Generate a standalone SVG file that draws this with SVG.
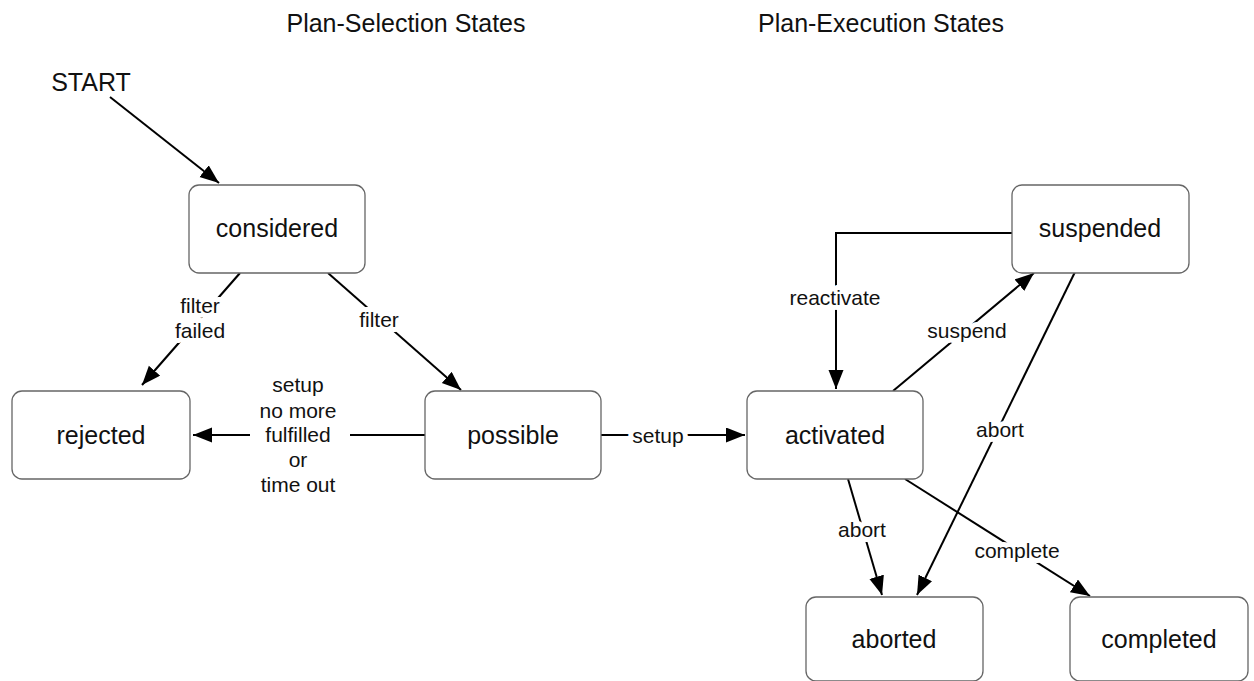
<svg xmlns="http://www.w3.org/2000/svg" width="1254" height="681" viewBox="0 0 1254 681">
<defs>
<marker id="ah" markerUnits="userSpaceOnUse" markerWidth="20" markerHeight="16" refX="19" refY="7.5" orient="auto">
<path d="M0,0 L19,7.5 L0,15 z" fill="#000"/>
</marker>
<style>
.node rect{fill:#fff;stroke:#666;stroke-width:1.3}
.node text{font-family:"Liberation Sans",Arial,sans-serif;font-size:25px;fill:#111;text-anchor:middle}
.title{font-family:"Liberation Sans",Arial,sans-serif;font-size:25px;fill:#111;text-anchor:middle}
.edge{stroke:#000;stroke-width:2;fill:none}
.arr{marker-end:url(#ah)}
.lbl{font-family:"Liberation Sans",Arial,sans-serif;font-size:21px;fill:#111;text-anchor:middle;stroke:#fff;stroke-width:10;paint-order:stroke;stroke-linejoin:round}
.plain{font-family:"Liberation Sans",Arial,sans-serif;font-size:21px;fill:#111;text-anchor:middle}
</style>
</defs>
<rect width="1254" height="681" fill="#fff"/>
<text class="title" x="406" y="32">Plan-Selection States</text>
<text class="title" x="881" y="32">Plan-Execution States</text>
<text class="title" x="91" y="91">START</text>

<g id="connectors">
<path class="edge arr" d="M110,97 L219,183"/>
<path class="edge arr" d="M240,273 L142,385"/>
<path class="edge arr" d="M328,273 L461,390"/>
<path class="edge" d="M425,435 L350,435"/>
<path class="edge arr" d="M250,435 L193,435"/>
<path class="edge arr" d="M601,435 L745,435"/>
<path class="edge arr" d="M1012,233 L836,233 L836,389"/>
<path class="edge arr" d="M893,391 L1034,273"/>
<path class="edge arr" d="M1075,272 L917,595"/>
<path class="edge arr" d="M848,479 L882,595"/>
<path class="edge arr" d="M905,479 L1090,596"/>
<text class="lbl" x="200" y="313">filter</text>
<text class="lbl" x="200" y="338">failed</text>
<text class="lbl" x="379" y="327">filter</text>
<text class="plain" x="298" y="392">setup</text>
<text class="plain" x="298" y="418">no more</text>
<text class="plain" x="298" y="442">fulfilled</text>
<text class="plain" x="298" y="467">or</text>
<text class="plain" x="298" y="492">time out</text>
<text class="lbl" x="658" y="443">setup</text>
<text class="lbl" x="835" y="305">reactivate</text>
<text class="lbl" x="967" y="338">suspend</text>
<text class="lbl" x="1000" y="437">abort</text>
<text class="lbl" x="862" y="537">abort</text>
<text class="lbl" x="1017" y="558">complete</text>
</g>

<g id="considered" class="node"><rect x="189" y="185" width="176" height="88" rx="10"/><text x="277" y="237">considered</text></g>
<g id="rejected" class="node"><rect x="12" y="391" width="178" height="88" rx="10"/><text x="101" y="444">rejected</text></g>
<g id="possible" class="node"><rect x="425" y="391" width="176" height="88" rx="10"/><text x="513" y="444">possible</text></g>
<g id="activated" class="node"><rect x="747" y="391" width="176" height="88" rx="10"/><text x="835" y="444">activated</text></g>
<g id="suspended" class="node"><rect x="1012" y="185" width="177" height="88" rx="10"/><text x="1100" y="237">suspended</text></g>
<g id="aborted" class="node"><rect x="806" y="597" width="177" height="84" rx="10"/><text x="894" y="648">aborted</text></g>
<g id="completed" class="node"><rect x="1070" y="597" width="178" height="84" rx="10"/><text x="1159" y="648">completed</text></g>
</svg>
